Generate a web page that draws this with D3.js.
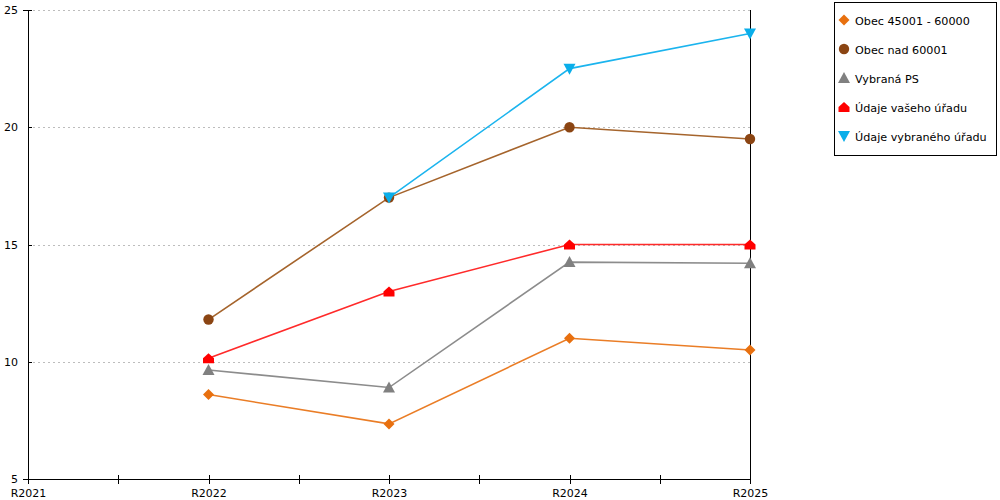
<!DOCTYPE html>
<meta charset="utf-8">
<script src="https://cdn.jsdelivr.net/npm/d3@7"></script>
<style>
body { margin: 0; background: #fff; }
text { font-family: "DejaVu Sans", Verdana, sans-serif; fill: #000; }
.grid line { stroke: #bdbdbd; stroke-dasharray: 2,3; }
.axis path, .axis line { stroke: #000; stroke-width: 1px; shape-rendering: crispEdges; }
</style>
<body>
<div id="chart"></div>
</body>
<script>
var categories = ["R2021", "R2022", "R2023", "R2024", "R2025"];
var yTicks = [5, 10, 15, 20, 25];

var seriesNames = ["Obec 45001 - 60000", "Obec nad 60001", "Vybraná PS", "Údaje vašeho úřadu", "Údaje vybraného úřadu"];
var obec45001 = [null, 8.6, 7.35, 11.0, 10.5];
var obecNad60001 = [null, 11.8, 17.0, 20.0, 19.5];
var vybranaPS = [null, 9.65, 8.9, 14.25, 14.2];
var vasehoUradu = [null, 10.15, 13.0, 15.0, 15.0];
var vybranehoUradu = [null, null, 17.0, 22.5, 24.0];

var lineColors = ["#ea7d26", "#a5642c", "#8c8c8c", "#ff2a2a", "#1bb4ee"];
var markerColors = ["#e8700f", "#8b4513", "#808080", "#ff0000", "#0aaeea"];
var markerTypes = ["diamond", "circle", "up", "house", "down"];

var series = [obec45001, obecNad60001, vybranaPS, vasehoUradu, vybranehoUradu].map(function(v, i) {
  return {name: seriesNames[i], values: v, line: lineColors[i], color: markerColors[i], type: markerTypes[i]};
});

var margin = {top: 10, left: 28},
    width = 722,
    height = 469;

var svg = d3.select("#chart").append("svg")
    .attr("width", 1000)
    .attr("height", 500);

var g = svg.append("g")
    .attr("transform", "translate(" + margin.left + "," + margin.top + ")");

var x = d3.scaleLinear().domain([0, categories.length - 1]).range([0, width]);
var y = d3.scaleLinear().domain([5, 25]).range([height, 0]);

// grid
g.append("g").attr("class", "grid")
  .selectAll("line")
  .data(yTicks.slice(1))
  .enter().append("line")
  .attr("x1", 5).attr("x2", width)
  .attr("y1", function(d) { return Math.round(y(d)) + 0.5; })
  .attr("y2", function(d) { return Math.round(y(d)) + 0.5; });

// right border
g.append("line")
  .attr("x1", width + 0.5).attr("x2", width + 0.5)
  .attr("y1", 0).attr("y2", height)
  .attr("stroke", "#000");

var xAxis = g.append("g")
  .attr("class", "axis")
  .attr("transform", "translate(0," + height + ")")
  .call(d3.axisBottom(x)
    .tickValues(d3.range(0, categories.length - 0.9, 0.5))
    .tickSizeOuter(0)
    .tickSize(5)
    .tickFormat(function(d) { return d % 1 === 0 ? categories[d] : ""; }));
xAxis.selectAll(".tick line").attr("y1", -4);
xAxis.selectAll(".tick text").attr("y", 10).style("font-size", "11px").style("font-family", "DejaVu Sans");

var yAxis = g.append("g")
  .attr("class", "axis")
  .call(d3.axisLeft(y).tickValues(yTicks).tickSizeOuter(0).tickSize(5));
yAxis.selectAll(".tick line").attr("x2", 4);
yAxis.selectAll(".tick text").attr("x", -10).style("font-size", "11px").style("font-family", "DejaVu Sans");

function markerPath(type) {
  if (type === "diamond") return "M0,-5.5L5.5,0L0,5.5L-5.5,0Z";
  if (type === "circle") return d3.symbol().type(d3.symbolCircle).size(85)();
  if (type === "up") return "M0,-6L6,5L-6,5Z";
  if (type === "down") return "M-6,-5L6,-5L0,6Z";
  if (type === "house") return "M-5.5,5L5.5,5L5.5,0L0,-5L-5.5,0Z";
}

var line = d3.line()
  .defined(function(d) { return d != null; })
  .x(function(d, i) { return x(i); })
  .y(function(d) { return y(d); });

series.forEach(function(s) {
  var sg = g.append("g");
  sg.append("path")
    .datum(s.values)
    .attr("fill", "none")
    .attr("stroke", s.line)
    .attr("stroke-width", 1.6)
    .attr("d", line);
  sg.selectAll(".pt")
    .data(s.values.map(function(v, i) { return {v: v, i: i}; }).filter(function(d) { return d.v != null; }))
    .enter().append("path")
    .attr("transform", function(d) { return "translate(" + x(d.i) + "," + y(d.v) + ")"; })
    .attr("d", markerPath(s.type))
    .attr("fill", s.color);
});

// legend
var legend = svg.append("g").attr("transform", "translate(834,2)");
legend.append("rect")
  .attr("x", 0.5).attr("y", 0.5)
  .attr("width", 162).attr("height", 153)
  .attr("fill", "#fff").attr("stroke", "#000");
var items = legend.selectAll(".item")
  .data(series)
  .enter().append("g")
  .attr("transform", function(d, i) { return "translate(10," + (18 + i * 29) + ")"; });
items.append("path")
  .attr("d", function(d) { return markerPath(d.type); })
  .attr("fill", function(d) { return d.color; });
items.append("text")
  .attr("x", 11)
  .attr("y", 4.5)
  .style("font-size", "11.2px")
  .text(function(d) { return d.name; });
</script>
